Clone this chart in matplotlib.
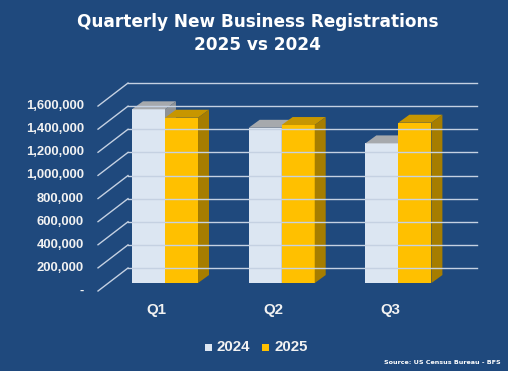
import matplotlib.pyplot as plt
from matplotlib.patches import Polygon, Rectangle

# --- Data ---
quarters = ['Q1', 'Q2', 'Q3']
series_names = ['2024', '2025']
values_2024 = [1503000, 1343000, 1208000]
values_2025 = [1430000, 1367000, 1387000]
y_ticks = [0, 200000, 400000, 600000, 800000, 1000000, 1200000, 1400000, 1600000]
y_tick_labels = ['-', '200,000', '400,000', '600,000', '800,000',
                 '1,000,000', '1,200,000', '1,400,000', '1,600,000']

# --- Style ---
bg = '#1f497d'
grid_col = '#c5d1e2'
text_col = '#f2f2f2'
face_cols = {'2024': ('#dce6f2', '#a6a9ad', '#8e9296'),
             '2025': ('#ffc000', '#c79600', '#a67d00')}
axis_font = 'Liberation Sans'

# fake 3D geometry (data units: x = category, y = value)
px_per_cat = 116.7       # pixels per category step
px_per_val = 115.6e-6    # pixels per unit value
wall_left, wall_right = -0.317, 2.673
depth_dx, depth_dy = -0.257, -199000      # back wall -> front edge
bar_w = 0.283
bar_base = -130000
bar_dx, bar_dy = 0.094, 69000             # bar depth

fig = plt.figure(figsize=(5.08, 3.71), dpi=100, facecolor=bg)
ax = fig.add_axes([0, 0, 1, 1])
ax.set_facecolor(bg)
ax.set_xlim(-165 / px_per_cat, (508 - 165) / px_per_cat)
ax.set_ylim((268 - 371) / px_per_val, 268 / px_per_val)
ax.axis('off')

# gridlines on back wall + diagonal on the side
for v, lab in zip(y_ticks, y_tick_labels):
    ax.plot([wall_left, wall_right], [v, v], color=grid_col, lw=1.0)
    ax.plot([wall_left, wall_left + depth_dx], [v, v + depth_dy], color=grid_col, lw=1.0)
    ax.text(-0.694, v + depth_dy, lab, ha='right', va='center', color=text_col,
            fontsize=9.4, fontweight='bold', family=axis_font)

# bars
def draw_bar(x0, val, cols):
    front, top, side = cols
    y0, y1 = bar_base, bar_base + val
    ax.add_patch(Polygon([(x0, y0), (x0 + bar_w, y0), (x0 + bar_w, y1), (x0, y1)],
                         closed=True, facecolor=front, edgecolor='none'))
    ax.add_patch(Polygon([(x0, y1), (x0 + bar_dx, y1 + bar_dy),
                          (x0 + bar_w + bar_dx, y1 + bar_dy), (x0 + bar_w, y1)],
                         closed=True, facecolor=top, edgecolor='none'))
    ax.add_patch(Polygon([(x0 + bar_w, y0), (x0 + bar_w + bar_dx, y0 + bar_dy),
                          (x0 + bar_w + bar_dx, y1 + bar_dy), (x0 + bar_w, y1)],
                         closed=True, facecolor=side, edgecolor='none'))

for i, q in enumerate(quarters):
    draw_bar(i - bar_w, values_2024[i], face_cols['2024'])
    draw_bar(i, values_2025[i], face_cols['2025'])
    ax.text(i - 0.07, -360000, q, ha='center', va='center', color=text_col,
            fontsize=10.8, fontweight='bold', family=axis_font)

# title
fig.text(0.507, 0.91, 'Quarterly New Business Registrations\n2025 vs 2024',
         ha='center', va='center', color='white', fontsize=12.2, fontweight='bold',
         family='DejaVu Sans', linespacing=1.4)

# legend
for x_sq, x_txt, name in [(0.404, 0.427, '2024'), (0.516, 0.540, '2025')]:
    fig.patches.append(Rectangle((x_sq, 0.054), 0.013, 0.018, transform=fig.transFigure,
                                 facecolor=face_cols[name][0], edgecolor='none'))
    fig.text(x_txt, 0.064, name, ha='left', va='center', color=text_col,
             fontsize=10.8, fontweight='bold', family=axis_font)

fig.text(0.985, 0.022, 'Source: US Census Bureau - BFS', ha='right', va='center',
         color='white', fontsize=4.6, fontweight='bold')

fig.savefig('out.png', dpi=100, facecolor=bg)
